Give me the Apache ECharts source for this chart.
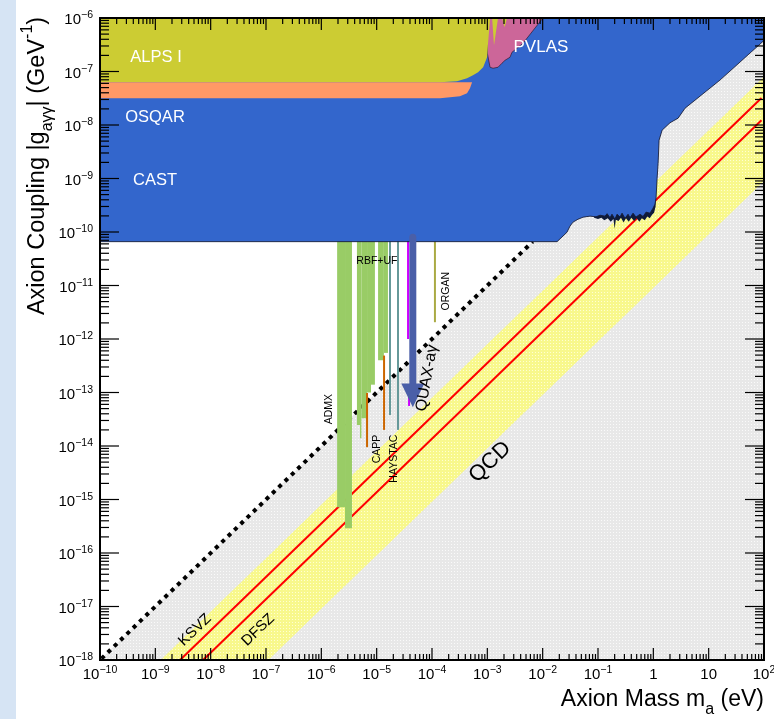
<!DOCTYPE html>
<html><head><meta charset="utf-8">
<script src="https://cdn.jsdelivr.net/npm/echarts@6.0.0/dist/echarts.min.js"></script>
<style>html,body{margin:0;padding:0;background:#fff}#c{width:774px;height:719px}</style>
</head><body><div id="c"></div>
<script>
// ---------------- DATA ----------------
const massRange = [1e-10, 1e2];
const couplingRange = [1e-18, 1e-6];
const massTickExps = [-10,-9,-8,-7,-6,-5,-4,-3,-2,-1,0,1,2];
const massTickLabels = ['10^−10','10^−9','10^−8','10^−7','10^−6','10^−5','10^−4','10^−3','10^−2','10^−1','1','10','10^2'];
const couplingTickExps = [-18,-17,-16,-15,-14,-13,-12,-11,-10,-9,-8,-7,-6];
const couplingTickLabels = ['10^−18','10^−17','10^−16','10^−15','10^−14','10^−13','10^−12','10^−11','10^−10','10^−9','10^−8','10^−7','10^−6'];

// allowed-region / band polygons [mass eV, coupling GeV^-1]
const grayRegion = [[1e-10,1e-18],[6.6e-3,6.6e-11],[1e2,1e-6],[1e2,1e-18]];
const qcdBand = [[1.25e-9,1e-18],[1e2,8e-8],[1e2,9e-10],[1.1e-7,1e-18]];
const ksvzLine = [[2.8e-9,1e-18],[90,3.2e-8]];
const dfszLine = [[7.3e-9,1e-18],[90,1.23e-8]];
const boundLine = [[1e-10,1e-18],[6.6e-3,6.6e-11]];

// CAST / OSQAR excluded region
const castRegion = [[1e-10,1e-6],[1e-10,6.6e-11],[0.0182,6.6e-11],[0.0233,8.4e-11],[0.0275,9.9e-11],[0.0312,1.29e-10],[0.0354,1.53e-10],[0.0435,1.73e-10],[0.0536,1.89e-10],[0.0718,1.98e-10],[0.092,1.92e-10],[0.109,2.06e-10],[0.134,1.98e-10],[0.146,2.2e-10],[0.165,1.85e-10],[0.179,2.15e-10],[0.195,1.85e-10],[0.203,1.75e-10],[0.212,1.95e-10],[0.221,2.15e-10],[0.25,1.9e-10],[0.272,2.25e-10],[0.308,1.8e-10],[0.349,2.15e-10],[0.379,1.85e-10],[0.43,2.25e-10],[0.486,1.9e-10],[0.575,2.15e-10],[0.652,1.95e-10],[0.738,2.35e-10],[0.871,2.25e-10],[0.989,2.79e-10],[1.07,3.31e-10],[1.12,4.3e-10],[1.17,1.0e-9],[1.22,1.93e-9],[1.27,5.2e-9],[1.44,8.0e-9],[2.0,1.1e-8],[2.8,1.34e-8],[3.74,2.06e-8],[16,6.9e-8],[100,3.8e-7],[100,1e-6]];
const castFringe = [[0.085,1e-9],[0.085,1.85e-10],[0.1,1.75e-10],[0.115,1.85e-10],[0.13,1.65e-10],[0.15,1.8e-10],[0.17,1.55e-10],[0.19,1.75e-10],[0.2,1.15e-10],[0.21,1.7e-10],[0.235,1.6e-10],[0.26,1.85e-10],[0.29,1.5e-10],[0.32,1.8e-10],[0.36,1.55e-10],[0.4,1.85e-10],[0.45,1.6e-10],[0.5,1.8e-10],[0.56,1.55e-10],[0.62,1.8e-10],[0.7,1.65e-10],[0.78,1.95e-10],[0.86,1.8e-10],[0.95,2.1e-10],[1.03,2.3e-10],[1.1,3.0e-10],[1.13,1e-9]];
const pvlasRegion = [[1.0e-3,1e-6],[1.01e-2,1e-6],[4.41e-3,3.36e-7],[3.44e-3,2.72e-7],[2.79e-3,2.29e-7],[2.57e-3,1.85e-7],[2.09e-3,1.62e-7],[1.84e-3,1.43e-7],[1.56e-3,1.2e-7],[1.27e-3,1.15e-7],[1.12e-3,1.2e-7],[1.0e-3,2.2e-7]];
const alpsRegion = [[1e-10,1e-6],[2.27e-3,1e-6],[2.05e-3,6.7e-7],[1.84e-3,1e-6],[1.56e-3,1e-6],[1.32e-3,3.1e-7],[1.22e-3,1e-6],[1.12e-3,9.5e-7],[1.03e-3,3.36e-7],[9.9e-4,1.85e-7],[8.4e-4,1.2e-7],[6.8e-4,9.7e-8],[5.5e-4,8.5e-8],[4.3e-4,7.5e-8],[2.83e-4,6.57e-8],[1.4e-4,6.3e-8],[1e-10,6.3e-8]];
const orangeRegion = [[1e-10,6.3e-8],[5.3e-4,6.3e-8],[4.86e-4,4.86e-8],[4.3e-4,3.92e-8],[3.2e-4,3.44e-8],[2.12e-4,3.3e-8],[1.4e-4,3.16e-8],[1e-10,3.16e-8]];

// haloscopes: bars [mLow, mHigh, gLow] hanging from haloTop
const haloTop = 1e-10;
const admxBars = [[1.93e-6,2.68e-6,7.2e-16],[2.68e-6,3.58e-6,2.9e-16]];
const rbfBars = [[4.4e-6,5.0e-6,2.46e-14],[5.0e-6,5.3e-6,1.4e-14],[5.3e-6,6.7e-6,3.3e-14],[6.7e-6,7.9e-6,1.0e-13],[7.9e-6,9.3e-6,1.4e-13],[1.06e-5,1.35e-5,4.0e-13],[1.35e-5,1.6e-5,5.5e-13]];
// vertical exclusion lines [mass, gTop, gBottom]
const cappLines = [[6.7e-6,9.8e-14,9.5e-15],[1.36e-5,4.9e-13,2.0e-14]];
const haystacLines = [[1.74e-5,1e-10,3.8e-14],[2.43e-5,1e-10,2.0e-14]];
const magentaLines = [[3.69e-5,1e-10,1e-12],[3.85e-5,9e-14,5.6e-14]];
const organLines = [[1.13e-4,1e-10,2.06e-12]];
// QUAX arrow [mass, gTop, gHeadStart, gTip]
const quaxArrow = [[4.5e-5,8e-11,1.48e-13,5.3e-14]];

// annotations
const labelTexts = ['ALPS I','OSQAR','CAST','PVLAS','RBF+UF','ORGAN','ADMX','CAPP','HAYSTAC','QUAX-aγ','QCD','KSVZ','DFSZ'];
const labelAnchors = [[1.03e-9,1.8e-7],[9.86e-10,1.39e-8],[9.86e-10,9.1e-10],[9.3e-3,2.84e-7],[1.01e-5,2.85e-11],[1.79e-4,7.8e-12],[1.38e-6,4.9e-14],[1.01e-5,8.8e-15],[2.1e-5,5.8e-15],[8.1e-5,1.86e-13],[1.12e-3,5.0e-15],[5.2e-9,3.65e-18],[7.2e-8,3.65e-18]];

// ---------------- STYLE / RENDER ----------------
const FONT = '"Liberation Sans", Arial, Helvetica, sans-serif';
const labelStyles = [
  {size:16.5,color:'#fff',rot:0},{size:16.5,color:'#fff',rot:0},{size:16.5,color:'#fff',rot:0},{size:17,color:'#fff',rot:0},
  {size:10.5,color:'#000',rot:0},{size:10.5,color:'#000',rot:90},{size:10.5,color:'#000',rot:90},{size:10.5,color:'#000',rot:90},
  {size:10.5,color:'#000',rot:90},{size:16,color:'#000',rot:80},{size:22,color:'#000',rot:44},{size:15,color:'#000',rot:44},{size:15,color:'#000',rot:44}
];

function makePattern(base, dot) {
  const c = document.createElement('canvas'); c.width = 3; c.height = 3;
  const ctx = c.getContext('2d');
  ctx.fillStyle = base; ctx.fillRect(0,0,3,3);
  ctx.fillStyle = dot; ctx.fillRect(1,1,1,1);
  return c;
}
const grayFill = {image: makePattern('#e8e8e8','#fafafa'), repeat:'repeat'};
const yellowFill = {image: makePattern('#f8f88c','#ffffd2'), repeat:'repeat'};

let zc = 1;
const anchorData = [[1,1e-12]];
function polygonSeries(points, style) {
  return {type:'custom', coordinateSystem:'cartesian2d', silent:true, z:zc++, data:anchorData,
    renderItem:(p, api) => ({type:'polygon', shape:{points: points.map(q => api.coord(q))}, style})};
}
function lineSeries(points, lineStyle) {
  return {type:'line', data:points, symbol:'none', silent:true, z:zc++, lineStyle, animation:false};
}
function barSeries(bars, color) {
  return {type:'custom', coordinateSystem:'cartesian2d', silent:true, z:zc++, data:bars, encode:{x:[0,1], y:[2]},
    renderItem:(p, api) => {
      const a = api.coord([api.value(0), haloTop]);
      const b = api.coord([api.value(1), api.value(2)]);
      return {type:'rect', shape:{x:a[0], y:a[1], width:b[0]-a[0], height:b[1]-a[1]}, style:{fill:color}};
    }};
}
function vlineSeries(lines, color, width) {
  return {type:'custom', coordinateSystem:'cartesian2d', silent:true, z:zc++, data:lines, encode:{x:[0], y:[1,2]},
    renderItem:(p, api) => {
      const a = api.coord([api.value(0), api.value(1)]);
      const b = api.coord([api.value(0), api.value(2)]);
      return {type:'line', shape:{x1:a[0], y1:a[1], x2:b[0], y2:b[1]}, style:{stroke:color, lineWidth:width}};
    }};
}
function arrowSeries(data, color) {
  return {type:'custom', coordinateSystem:'cartesian2d', silent:true, z:zc++, data, encode:{x:[0], y:[1,2,3]},
    renderItem:(p, api) => {
      const a = api.coord([api.value(0), api.value(1)]);
      const h = api.coord([api.value(0), api.value(2)]);
      const t = api.coord([api.value(0), api.value(3)]);
      return {type:'group', children:[
        {type:'line', shape:{x1:a[0], y1:a[1], x2:h[0], y2:h[1]}, style:{stroke:color, lineWidth:7, lineCap:'round'}},
        {type:'polygon', shape:{points:[[h[0]-11.5,h[1]],[h[0]+11.5,h[1]],[t[0],t[1]]]}, style:{fill:color}}
      ]};
    }};
}
function labelSeries() {
  return {type:'custom', coordinateSystem:'cartesian2d', silent:true, z:zc++, data:anchorData,
    renderItem:(p, api) => ({type:'group', children: labelTexts.map((txt, i) => {
      const c = api.coord(labelAnchors[i]); const s = labelStyles[i];
      return {type:'text', x:c[0], y:c[1], rotation: s.rot*Math.PI/180,
        style:{text:txt, fill:s.color, fontSize:s.size, fontFamily:FONT, align:'center', verticalAlign:'middle'}};
    })})};
}
function tickLabelText(lbl) {
  if (lbl.indexOf('^') >= 0) { const p = lbl.split('^'); return '{b|' + p[0] + '}{s|' + p[1] + '}'; }
  return '{b|' + lbl + '}';
}
const tickRich = {b:{fontSize:15, lineHeight:20, fontFamily:FONT, fill:'#000'}, s:{fontSize:10.5, lineHeight:8, verticalAlign:'top', fontFamily:FONT, fill:'#000'}};
function frameSeries() {
  return {type:'custom', coordinateSystem:'cartesian2d', silent:true, z:zc++, data:anchorData,
    renderItem:(p, api) => {
      const lb = api.coord([massRange[0], couplingRange[0]]);
      const rt = api.coord([massRange[1], couplingRange[1]]);
      const x0 = lb[0], yb = lb[1], x1 = rt[0], yt = rt[1];
      const ch = [];
      const tick = (xa, ya, xb, yb2) => ch.push({type:'line', shape:{x1:xa, y1:ya, x2:xb, y2:yb2}, style:{stroke:'#000', lineWidth:1.2}});
      massTickExps.forEach((e, i) => {
        const x = api.coord([Math.pow(10, e), couplingRange[0]])[0];
        tick(x, yb, x, yb-12); tick(x, yt, x, yt+12);
        if (i < massTickExps.length-1) for (let k = 2; k <= 9; k++) {
          const xm = api.coord([k*Math.pow(10, e), couplingRange[0]])[0];
          tick(xm, yb, xm, yb-6); tick(xm, yt, xm, yt+6);
        }
        ch.push({type:'text', x:x, y:yb+5, style:{text:tickLabelText(massTickLabels[i]), rich:tickRich, align:'center', verticalAlign:'top'}});
      });
      couplingTickExps.forEach((e, i) => {
        const y = api.coord([massRange[0], Math.pow(10, e)])[1];
        tick(x0, y, x0+19, y); tick(x1, y, x1-19, y);
        if (i < couplingTickExps.length-1) for (let k = 2; k <= 9; k++) {
          const ym = api.coord([massRange[0], k*Math.pow(10, e)])[1];
          tick(x0, ym, x0+9, ym); tick(x1, ym, x1-9, ym);
        }
        ch.push({type:'text', x:x0-7, y:y+2, style:{text:tickLabelText(couplingTickLabels[i]), rich:tickRich, align:'right', verticalAlign:'middle'}});
      });
      ch.push({type:'rect', shape:{x:x0, y:yt, width:x1-x0, height:yb-yt}, style:{fill:'none', stroke:'#000', lineWidth:2}});
      return {type:'group', children:ch};
    }};
}

const series = [
  polygonSeries(grayRegion, {fill:grayFill}),
  polygonSeries(qcdBand, {fill:yellowFill}),
  lineSeries(ksvzLine, {color:'#ff0000', width:2}),
  lineSeries(dfszLine, {color:'#ff0000', width:2}),
  lineSeries(boundLine, {color:'#000', width:4, type:[4,4.8], cap:'butt', dashOffset:-2}),
  barSeries(admxBars, '#99cc66'),
  barSeries(rbfBars, '#99cc66'),
  vlineSeries(cappLines, '#cc6600', 2),
  vlineSeries(haystacLines, '#669999', 2),
  vlineSeries(magentaLines, '#cc00ff', 2),
  vlineSeries(organLines, '#aaaa44', 2),
  polygonSeries(castFringe, {fill:'#0e1a3a'}),
  polygonSeries(castRegion, {fill:'#3366cc', stroke:'rgba(20,25,50,0.85)', lineWidth:1}),
  polygonSeries(pvlasRegion, {fill:'#cc6699', stroke:'rgba(40,20,40,0.8)', lineWidth:0.8}),
  polygonSeries(alpsRegion, {fill:'#cccc33'}),
  polygonSeries(orangeRegion, {fill:'#ff9966'}),
  arrowSeries(quaxArrow, '#4a5fa8'),
  labelSeries(),
  frameSeries()
];

const chart = echarts.init(document.getElementById('c'), null, {renderer:'canvas'});
chart.setOption({
  animation:false,
  backgroundColor:'#fff',
  grid:{left:100, top:18, width:664, height:642, show:false},
  xAxis:{type:'log', logBase:10, min:massRange[0], max:massRange[1], show:false},
  yAxis:{type:'log', logBase:10, min:couplingRange[0], max:couplingRange[1], show:false},
  graphic:[
    {type:'rect', z:0, shape:{x:0, y:0, width:16, height:719}, style:{fill:'#d6e4f4'}},
    {type:'text', z:100, x:764, y:700, style:{text:'{t|Axion Mass m}{sub|a}{t| (eV)}', align:'right', verticalAlign:'middle',
      rich:{t:{fontSize:23, lineHeight:36, fontFamily:FONT, fill:'#000'}, sub:{fontSize:16, lineHeight:3, verticalAlign:'bottom', fontFamily:FONT, fill:'#000'}}}},
    {type:'text', z:100, x:38, y:166, rotation:Math.PI/2, style:{text:'{t|Axion Coupling |g}{sub|aγγ}{t|| (GeV}{sup|-1}{t|)}', align:'center', verticalAlign:'middle',
      rich:{t:{fontSize:23.5, lineHeight:36, fontFamily:FONT, fill:'#000'}, sub:{fontSize:16, lineHeight:5, verticalAlign:'bottom', fontFamily:FONT, fill:'#000'}, sup:{fontSize:16, lineHeight:8, verticalAlign:'top', fontFamily:FONT, fill:'#000'}}}}
  ],
  series
});
</script></body></html>
